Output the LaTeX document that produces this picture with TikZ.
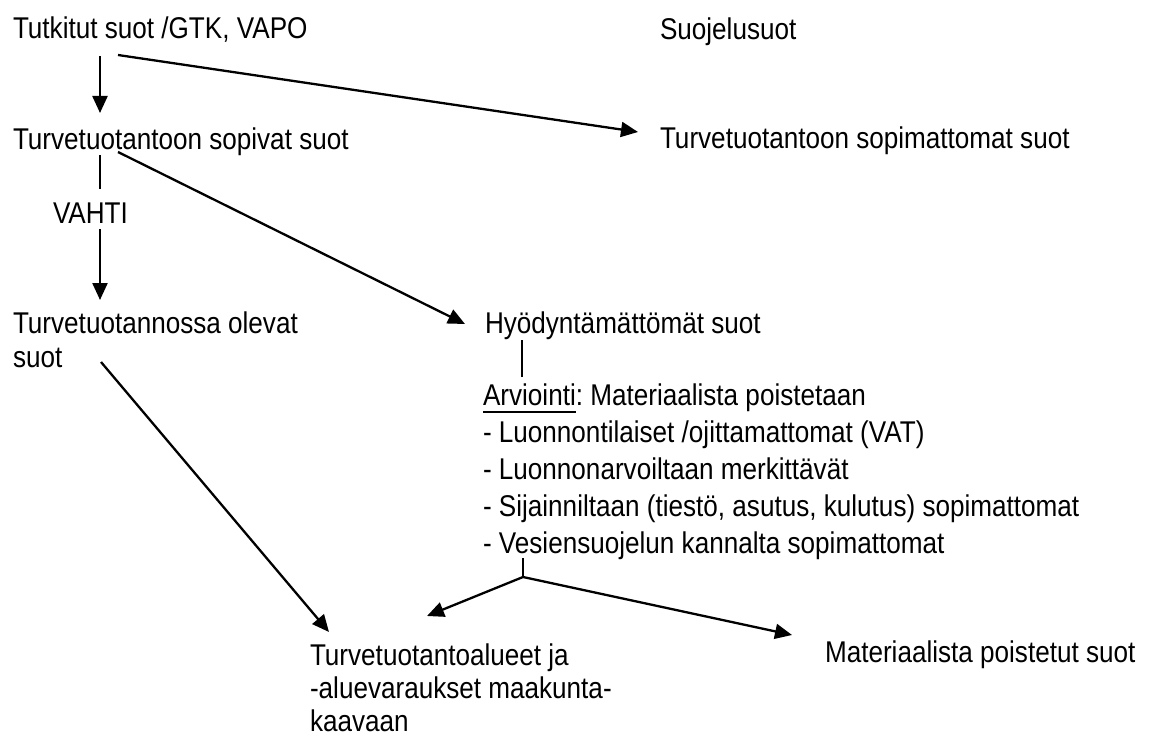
\documentclass[tikz,border=0pt]{standalone}
\usepackage{fontspec}
\setmainfont[FakeStretch=0.87]{Liberation Sans}
\usetikzlibrary{arrows.meta}
\frenchspacing
\newcommand\myul[1]{\setbox0\hbox{#1}\rlap{\rule[-8pt]{\wd0}{2pt}}#1}
\tikzset{
  txt/.style={inner sep=0pt, outer sep=0pt, anchor=base west, font=\fontsize{30}{34}\selectfont},
  mtxt/.style={inner sep=0pt, outer sep=0pt, anchor=north west, align=left},
  arr/.style={line width=2.3pt, -{Triangle[length=17pt,width=15pt]}},
  thickln/.style={line width=2.3pt},
  thinln/.style={line width=1.5pt}
}
\begin{document}
\begin{tikzpicture}[x=1pt,y=-1pt]
\useasboundingbox (0,0) rectangle (1151,738);
% texts
\node[txt] (t1) at (13,39) {Tutkitut suot /GTK, VAPO};
\node[txt] (s) at (660,40) {Suojelusuot};
\node[txt] (t2) at (13,150) {Turvetuotantoon sopivat suot};
\node[txt] (t3) at (660,149) {Turvetuotantoon sopimattomat suot};
\node[txt] (vahti) at (53,223) {VAHTI};
\node[mtxt, font=\fontsize{30}{34}\selectfont] (t4) at (13,311.5) {Turvetuotannossa olevat\\suot};
\node[txt] (h) at (485,333) {Hyödyntämättömät suot};
\node[mtxt, font=\fontsize{30}{37}\selectfont] (list) at (483,383.5) {\myul{Arviointi}: Materiaalista poistetaan\\- Luonnontilaiset /ojittamattomat (VAT)\\- Luonnonarvoiltaan merkittävät\\- Sijainniltaan (tiestö, asutus, kulutus) sopimattomat\\- Vesiensuojelun kannalta sopimattomat};
\node[mtxt, font=\fontsize{30}{33}\selectfont] (t5) at (310,643.5) {Turvetuotantoalueet ja\\-aluevaraukset maakunta-\\kaavaan};
\node[txt] (m) at (825,662) {Materiaalista poistetut suot};
% connector end points
\coordinate (a1s) at (100,56);
\coordinate (a1e) at (100,113);
\coordinate (a2s) at (118,55);
\coordinate (a2e) at (638,132);
\coordinate (l1s) at (100,155);
\coordinate (l1e) at (100,189);
\coordinate (a3s) at (100,229);
\coordinate (a3e) at (100,300);
\coordinate (a4s) at (118,152);
\coordinate (a4e) at (465,324);
\coordinate (a5s) at (101,362);
\coordinate (a5e) at (329,632);
\coordinate (l2s) at (522,340);
\coordinate (l2e) at (522,377);
\coordinate (bs) at (523,558);
\coordinate (bj) at (523,577);
\coordinate (b1e) at (427,616);
\coordinate (b2e) at (792,635);
% connectors
\draw[arr] (a1s) -- (a1e);
\draw[arr] (a2s) -- (a2e);
\draw[thickln] (l1s) -- (l1e);
\draw[arr] (a3s) -- (a3e);
\draw[arr] (a4s) -- (a4e);
\draw[arr] (a5s) -- (a5e);
\draw[thinln] (l2s) -- (l2e);
\draw[thinln] (bs) -- (bj);
\draw[arr] (bj) -- (b1e);
\draw[arr] (bj) -- (b2e);
\end{tikzpicture}
\end{document}
